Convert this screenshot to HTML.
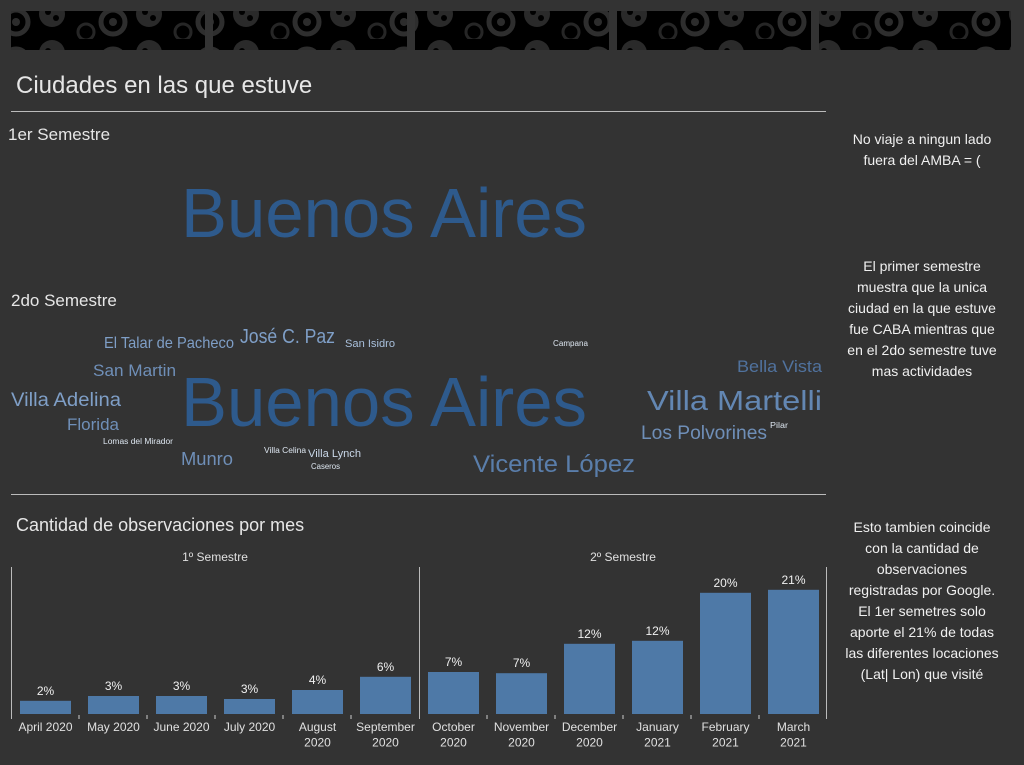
<!DOCTYPE html>
<html><head><meta charset="utf-8"><style>
body{margin:0;background:#333;width:1024px;height:765px;overflow:hidden;font-family:"Liberation Sans",sans-serif}
svg{display:block}
</style></head><body>
<svg width="1024" height="765" xmlns="http://www.w3.org/2000/svg">
<defs>
<pattern id="virus" width="97" height="39" patternUnits="userSpaceOnUse">
<rect width="97" height="39" fill="#000"/>
<circle cx="16" cy="22" r="12" fill="none" stroke="#2e2e2e" stroke-width="5"/>
<circle cx="16" cy="22" r="4" fill="#2c2c2c"/>
<circle cx="52" cy="14" r="13" fill="#2a2a2a"/>
<circle cx="48" cy="12" r="3" fill="#000"/>
<circle cx="56" cy="18" r="3" fill="#000"/>
<circle cx="86" cy="32" r="8" fill="none" stroke="#262626" stroke-width="3"/>
</pattern>
</defs>
<rect width="1024" height="765" fill="#333"/>
<g>
<rect x="11" y="11" width="194" height="39" fill="url(#virus)"/>
<rect x="213" y="11" width="194" height="39" fill="url(#virus)"/>
<rect x="415" y="11" width="194" height="39" fill="url(#virus)"/>
<rect x="617" y="11" width="194" height="39" fill="url(#virus)"/>
<rect x="819" y="11" width="192" height="39" fill="url(#virus)"/>
</g>
<text x="16" y="93" font-size="24" fill="#e6e6e6">Ciudades en las que estuve</text>
<line x1="11" y1="111.5" x2="826" y2="111.5" stroke="#bbb"/>
<text x="8" y="140" font-size="17" fill="#e6e6e6">1er Semestre</text>
<text x="181" y="237" font-size="70" fill="#2e5a8c" textLength="406" lengthAdjust="spacingAndGlyphs">Buenos Aires</text>
<text x="11" y="306" font-size="17" fill="#e6e6e6">2do Semestre</text>
<g fill="#7f9fc7">
<text x="181" y="426" font-size="70" fill="#2e5a8c" textLength="406" lengthAdjust="spacingAndGlyphs">Buenos Aires</text>
<text x="104" y="348" font-size="16" textLength="130" lengthAdjust="spacingAndGlyphs">El Talar de Pacheco</text>
<text x="240" y="343" font-size="20" textLength="95" lengthAdjust="spacingAndGlyphs">José C. Paz</text>
<text x="345" y="347" font-size="11" fill="#a9c0dc" textLength="50" lengthAdjust="spacingAndGlyphs">San Isidro</text>
<text x="553" y="346" font-size="8" fill="#dde6f0" textLength="35" lengthAdjust="spacingAndGlyphs">Campana</text>
<text x="93" y="376" font-size="17" fill="#6f8fb8" textLength="83" lengthAdjust="spacingAndGlyphs">San Martin</text>
<text x="737" y="372" font-size="17" fill="#50729e" textLength="85" lengthAdjust="spacingAndGlyphs">Bella Vista</text>
<text x="11" y="406" font-size="19" textLength="110" lengthAdjust="spacingAndGlyphs">Villa Adelina</text>
<text x="647" y="410" font-size="28" fill="#6387b3" textLength="175" lengthAdjust="spacingAndGlyphs">Villa Martelli</text>
<text x="67" y="430" font-size="17" fill="#6f8fb8" textLength="52" lengthAdjust="spacingAndGlyphs">Florida</text>
<text x="641" y="439" font-size="19" fill="#6f8fb8" textLength="126" lengthAdjust="spacingAndGlyphs">Los Polvorines</text>
<text x="770" y="428" font-size="8" fill="#dde6f0" textLength="18" lengthAdjust="spacingAndGlyphs">Pilar</text>
<text x="103" y="444" font-size="8" fill="#dde6f0" textLength="70" lengthAdjust="spacingAndGlyphs">Lomas del Mirador</text>
<text x="181" y="465" font-size="18" fill="#6f8fb8" textLength="52" lengthAdjust="spacingAndGlyphs">Munro</text>
<text x="264" y="453" font-size="8" fill="#dde6f0" textLength="42" lengthAdjust="spacingAndGlyphs">Villa Celina</text>
<text x="308" y="457" font-size="11" fill="#c9d7e8" textLength="53" lengthAdjust="spacingAndGlyphs">Villa Lynch</text>
<text x="311" y="469" font-size="8" fill="#dde6f0" textLength="29" lengthAdjust="spacingAndGlyphs">Caseros</text>
<text x="473" y="472" font-size="24" fill="#5a7eab" textLength="162" lengthAdjust="spacingAndGlyphs">Vicente López</text>
</g>
<line x1="11" y1="494.5" x2="826" y2="494.5" stroke="#bbb"/>
<text x="16" y="531" font-size="18" fill="#e6e6e6">Cantidad de observaciones por mes</text>
<g font-size="14" fill="#f0f0f0" text-anchor="middle">
<text x="922" y="144">No viaje a ningun lado</text>
<text x="922" y="165">fuera del AMBA  = (</text>
<text x="922" y="271">El primer semestre</text>
<text x="922" y="292">muestra que la unica</text>
<text x="922" y="313">ciudad en la que estuve</text>
<text x="922" y="334">fue CABA mientras que</text>
<text x="922" y="355">en el 2do semestre tuve</text>
<text x="922" y="376">mas actividades</text>
<text x="922" y="532">Esto tambien coincide</text>
<text x="922" y="553">con la cantidad de</text>
<text x="922" y="574">observaciones</text>
<text x="922" y="595">registradas por Google.</text>
<text x="922" y="616">El 1er semetres solo</text>
<text x="922" y="637">aporte el 21% de todas</text>
<text x="922" y="658">las diferentes locaciones</text>
<text x="922" y="679">(Lat| Lon) que visité</text>
</g>
<g id="chart"></g>
</svg>
<script>
const months1 = ["April 2020","May 2020","June 2020","July 2020","August|2020","September|2020"];
const months2 = ["October|2020","November|2020","December|2020","January|2021","February|2021","March|2021"];
const values1 = [2.2,3.0,3.0,2.5,4.0,6.2];
const values2 = [7.0,6.8,11.7,12.2,20.2,20.7];
const paneTitles = ["1º Semestre","2º Semestre"];
const NS="http://www.w3.org/2000/svg";
const g=document.getElementById('chart');
const baseY=714, pxPer=6, slot=68;
function yScale(v){return baseY-v*pxPer;}
function mk(tag,attrs){const e=document.createElementNS(NS,tag);for(const k in attrs)e.setAttribute(k,attrs[k]);g.appendChild(e);return e;}
function pane(x0,cats,vals,title,idx){
  const t=mk('text',{x:x0+204,y:561,'font-size':12,fill:'#e0e0e0','text-anchor':'middle'});
  t.textContent=title;
  
  
  cats.forEach((c,i)=>{
    const sx=x0+i*slot;
    const y=yScale(vals[i]);
    const r=mk('rect',{x:sx+9,y:y,width:51,height:baseY-y,fill:'#4e79a7'});
    
    
    const l=mk('text',{x:sx+34.5,y:y-6,'font-size':12,fill:'#f0f0f0','text-anchor':'middle'});
    l.textContent=Math.round(vals[i])+'%';
    
    
    const parts=c.split('|');
    parts.forEach((p,j)=>{
      const tx=mk('text',{x:sx+34.5,y:731+j*15.5,'font-size':12,fill:'#e0e0e0','text-anchor':'middle'});
      tx.textContent=p;
      
      
    });
    if(i>0){const tk=mk('line',{x1:sx,y1:715,x2:sx,y2:719,stroke:'#ccc'});
      
      }
  });
}
pane(11,months1,values1,paneTitles[0],1);
pane(419,months2,values2,paneTitles[1],2);
[[11.5,567,719],[419.5,567,719],[826.5,567,719]].forEach(a=>{
  const ln=mk('line',{x1:a[0],y1:a[1],x2:a[0],y2:a[2],stroke:'#bbb'});
  
  
});
</script>
</body></html>
